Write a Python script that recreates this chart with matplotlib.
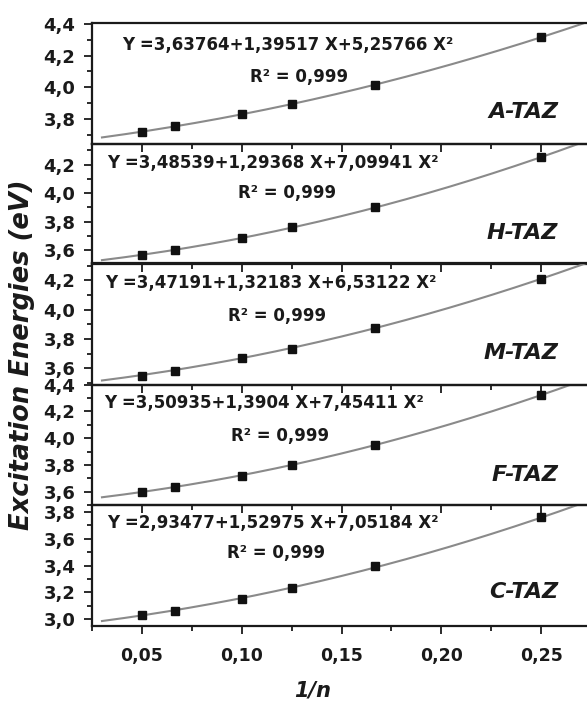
import numpy as np
import matplotlib
matplotlib.use("Agg")
import matplotlib.pyplot as plt
from matplotlib.ticker import MultipleLocator, FuncFormatter

plt.rcParams['font.family'] = ['DejaVu Sans']
plt.rcParams['font.weight'] = 'bold'

# ------------------------------
# data
# ------------------------------
inv_n = [1 / 20, 1 / 15, 1 / 10, 1 / 8, 1 / 6, 1 / 4]
names = ['A-TAZ', 'H-TAZ', 'M-TAZ', 'F-TAZ', 'C-TAZ']

e_A = [3.72, 3.755, 3.83, 3.895, 4.015, 4.315]
e_H = [3.565, 3.605, 3.685, 3.76, 3.90, 4.25]
e_M = [3.55, 3.585, 3.67, 3.735, 3.875, 4.21]
e_F = [3.60, 3.635, 3.72, 3.80, 3.95, 4.325]
e_C = [3.035, 3.065, 3.155, 3.235, 3.395, 3.76]
energies = [e_A, e_H, e_M, e_F, e_C]

# fit coefficients a + b X + c X^2 as printed in the chart
fit_a = [3.63764, 3.48539, 3.47191, 3.50935, 2.93477]
fit_b = [1.39517, 1.29368, 1.32183, 1.3904, 1.52975]
fit_c = [5.25766, 7.09941, 6.53122, 7.45411, 7.05184]
r2 = '0,999'

ylims = [(3.646, 4.405), (3.507, 4.348), (3.49, 4.315), (3.5, 4.402), (2.95, 3.852)]

# ------------------------------
# layout (pixels of the 587x701 picture)
# ------------------------------
W, H = 587, 701
edges = [23, 143.5, 263.5, 384.5, 505, 626]
ax_left, ax_right = 92, 591

eq_x = [122, 107, 105, 104, 107]
eq_y = [45, 163, 283, 403, 523]
r2_x = [250, 238, 228, 231, 227]
r2_y = [77, 193, 316, 436, 553]
lab_x = 558
lab_y = [112, 233, 353, 475, 592]

fig = plt.figure(figsize=(W / 100, H / 100), dpi=100)

txt_col = '#1a1a1a'
comma1 = FuncFormatter(lambda v, p: f'{v:.1f}'.replace('.', ','))
comma2 = FuncFormatter(lambda v, p: f'{v:.2f}'.replace('.', ','))

xfit = np.linspace(0.03, 0.28, 300)

axes = []
for i in range(5):
    top, bot = edges[i], edges[i + 1]
    ax = fig.add_axes([ax_left / W, 1 - bot / H, (ax_right - ax_left) / W, (bot - top) / H])
    axes.append(ax)
    yfit = fit_a[i] + fit_b[i] * xfit + fit_c[i] * xfit ** 2
    ax.plot(xfit, yfit, color='#8a8a8a', lw=1.5, zorder=2)
    ax.plot(inv_n, energies[i], 's', color='#111111', ms=5.5, mec='#111111', zorder=3)

    ax.set_xlim(0.025, 0.275)
    ax.set_ylim(*ylims[i])
    ax.patch.set_alpha(0)

    ax.xaxis.set_major_locator(MultipleLocator(0.05))
    ax.xaxis.set_minor_locator(MultipleLocator(0.025))
    ax.yaxis.set_major_locator(MultipleLocator(0.2))
    ax.yaxis.set_minor_locator(MultipleLocator(0.1))
    ax.yaxis.set_major_formatter(comma1)
    ax.xaxis.set_major_formatter(comma2)

    ax.tick_params(which='both', direction='out', color=txt_col, width=1.3)
    ax.tick_params(which='major', length=6)
    ax.tick_params(which='minor', length=3.5)
    ax.tick_params(axis='y', labelsize=13, pad=6, labelcolor=txt_col)
    ax.tick_params(axis='x', labelsize=12.5, pad=9, labelcolor=txt_col)
    if i < 4:
        ax.tick_params(axis='x', labelbottom=False)
    ax.spines['right'].set_visible(False)
    for s in ['left', 'top', 'bottom']:
        ax.spines[s].set_linewidth(1.6)
        ax.spines[s].set_color(txt_col)

    h = bot - top
    eq = (f'Y ={str(fit_a[i]).replace(".", ",")}+{str(fit_b[i]).replace(".", ",")} X'
          f'+{str(fit_c[i]).replace(".", ",")} X²')
    ax.text((eq_x[i] - ax_left) / (ax_right - ax_left), (bot - eq_y[i]) / h, eq,
            transform=ax.transAxes, ha='left', va='center', fontsize=12,
            fontweight='bold', color=txt_col)
    ax.text((r2_x[i] - ax_left) / (ax_right - ax_left), (bot - r2_y[i]) / h, f'R² = {r2}',
            transform=ax.transAxes, ha='left', va='center', fontsize=12,
            fontweight='bold', color=txt_col)
    ax.text((lab_x - ax_left) / (ax_right - ax_left), (bot - lab_y[i]) / h, names[i],
            transform=ax.transAxes, ha='right', va='center', fontsize=16,
            fontweight='bold', style='italic', color=txt_col)

fig.text(22 / W, 1 - 355 / H, 'Excitation Energies (eV)', rotation=90, ha='center',
         va='center', fontsize=18.5, fontweight='bold', style='italic', color=txt_col)
fig.text(313 / W, 1 - 690 / H, '1/n', ha='center', va='center', fontsize=15,
         fontweight='bold', style='italic', color=txt_col)

fig.savefig('out.png', dpi=100)
